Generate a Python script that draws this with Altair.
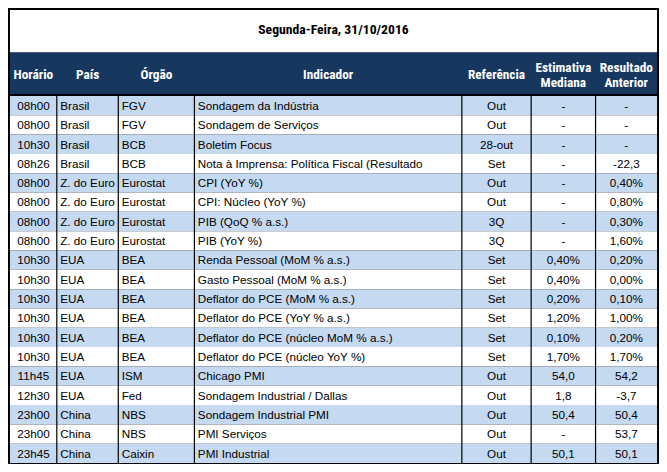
import altair as alt
import pandas as pd

# ---------------- data ----------------
TITLE = "Segunda-Feira, 31/10/2016"
HEADERS = ["Horário", "País", "Órgão", "Indicador", "Referência",
           "Estimativa\nMediana", "Resultado\nAnterior"]

horario = ["08h00", "08h00", "10h30", "08h26", "08h00", "08h00", "08h00", "08h00",
           "10h30", "10h30", "10h30", "10h30", "10h30", "10h30", "11h45", "12h30",
           "23h00", "23h00", "23h45"]
pais = ["Brasil", "Brasil", "Brasil", "Brasil", "Z. do Euro", "Z. do Euro", "Z. do Euro",
        "Z. do Euro", "EUA", "EUA", "EUA", "EUA", "EUA", "EUA", "EUA", "EUA",
        "China", "China", "China"]
orgao = ["FGV", "FGV", "BCB", "BCB", "Eurostat", "Eurostat", "Eurostat", "Eurostat",
         "BEA", "BEA", "BEA", "BEA", "BEA", "BEA", "ISM", "Fed", "NBS", "NBS", "Caixin"]
indicador = ["Sondagem da Indústria", "Sondagem de Serviços", "Boletim Focus",
             "Nota à Imprensa: Política Fiscal (Resultado", "CPI (YoY %)",
             "CPI: Núcleo (YoY %)", "PIB (QoQ % a.s.)", "PIB (YoY %)",
             "Renda Pessoal (MoM % a.s.)", "Gasto Pessoal (MoM % a.s.)",
             "Deflator do PCE (MoM % a.s.)", "Deflator do PCE (YoY % a.s.)",
             "Deflator do PCE (núcleo MoM % a.s.)", "Deflator do PCE (núcleo YoY %)",
             "Chicago PMI", "Sondagem Industrial / Dallas", "Sondagem Industrial PMI",
             "PMI Serviços", "PMI Industrial"]
referencia = ["Out", "Out", "28-out", "Set", "Out", "Out", "3Q", "3Q", "Set", "Set",
              "Set", "Set", "Set", "Set", "Out", "Out", "Out", "Out", "Out"]
estimativa = ["-", "-", "-", "-", "-", "-", "-", "-", "0,40%", "0,40%", "0,20%",
              "1,20%", "0,10%", "1,70%", "54,0", "1,8", "50,4", "-", "50,1"]
anterior = ["-", "-", "-", "-22,3", "0,40%", "0,80%", "0,30%", "1,60%", "0,20%",
            "0,00%", "0,10%", "1,00%", "0,20%", "1,70%", "54,2", "-3,7", "50,4",
            "53,7", "50,1"]

# ---------------- layout (reference pixel units) ----------------
REF_W, REF_H = 667, 472
W, H = 651, 456
COL_EDGES = [2, 50, 113, 191, 465, 536, 602, 665]
COL_ALIGN = ["center", "left", "left", "left", "center", "center", "center"]
TITLE_Y = 23
HEAD_TOP, HEAD_BOT, HEAD_MID = 46, 89, 69
BODY_TOP, ROW_H = 91, 20
NAVY = "#17375e"
BLUE = "#c5d9f1"
BODY_FONT = "Liberation Sans"
HEAD_FONT = "'Roboto Condensed', 'DejaVu Sans Condensed', 'Liberation Sans'"

xs = alt.Scale(domain=[0, REF_W], range=[0, W], nice=False, zero=False)
ys = alt.Scale(domain=[0, REF_H], range=[0, H], nice=False, zero=False)


def X(f):
    return alt.X(f, type="quantitative", scale=xs, axis=None)


def Y(f):
    return alt.Y(f, type="quantitative", scale=ys, axis=None)


# frame blocks
frame = pd.DataFrame({
    "x0": [0, COL_EDGES[0], COL_EDGES[0]],
    "x1": [REF_W, COL_EDGES[-1], COL_EDGES[-1]],
    "y0": [0, 2, HEAD_TOP],
    "y1": [REF_H, HEAD_TOP, HEAD_BOT],
    "fill": ["#000000", "#ffffff", NAVY],
})
frame_layer = alt.Chart(frame).mark_rect().encode(
    x=X("x0"), x2="x1", y=Y("y0"), y2="y1",
    color=alt.Color("fill:N", scale=None))

# body rows
columns = [horario, pais, orgao, indicador, referencia, estimativa, anterior]
n = len(horario)
rows = pd.DataFrame({
    "i": list(range(n)),
    "y0": [BODY_TOP + i * ROW_H for i in range(n)],
    "y1": [BODY_TOP + (i + 1) * ROW_H for i in range(n)],
    "x0": [COL_EDGES[0]] * n,
    "x1": [COL_EDGES[-1]] * n,
    "fill": [BLUE if i % 2 == 0 else "#ffffff" for i in range(n)],
})
row_layer = alt.Chart(rows).mark_rect().encode(
    x=X("x0"), x2="x1", y=Y("y0"), y2="y1",
    color=alt.Color("fill:N", scale=None))

# vertical rules
rules = pd.DataFrame({"x": COL_EDGES[1:-1], "y0": HEAD_BOT, "y1": BODY_TOP + n * ROW_H})
rule_layer = alt.Chart(rules).mark_rule(color="#000000", strokeWidth=1.2).encode(
    x=X("x"), y=Y("y0"), y2="y1")

# cells
cells = []
for c, (vals, al) in enumerate(zip(columns, COL_ALIGN)):
    left, right = COL_EDGES[c], COL_EDGES[c + 1]
    xpos = left + 3.5 if al == "left" else (left + right) / 2
    for i, v in enumerate(vals):
        cells.append({"x": xpos, "y": BODY_TOP + i * ROW_H + ROW_H / 2 + 0.3,
                      "t": v, "al": al})
cells = pd.DataFrame(cells)

text_left = alt.Chart(cells[cells.al == "left"]).mark_text(
    align="left", baseline="middle", font=BODY_FONT, fontSize=11.7, color="#000000"
).encode(x=X("x"), y=Y("y"), text="t:N")
text_center = alt.Chart(cells[cells.al == "center"]).mark_text(
    align="center", baseline="middle", font=BODY_FONT, fontSize=11.7, color="#000000"
).encode(x=X("x"), y=Y("y"), text="t:N")

# header
head = pd.DataFrame({
    "x": [(COL_EDGES[c] + COL_EDGES[c + 1]) / 2 for c in range(len(HEADERS))],
    "y": [HEAD_MID if "\n" not in h else HEAD_MID - 6.6 for h in HEADERS],
    "t": HEADERS,
})
head_layer = alt.Chart(head).mark_text(
    align="center", baseline="middle", font=HEAD_FONT, fontWeight="bold",
    fontSize=13.3, color="#ffffff", lineBreak="\n", lineHeight=14.8
).encode(x=X("x"), y=Y("y"), text="t:N")

title = pd.DataFrame({"x": [(COL_EDGES[0] + COL_EDGES[-1]) / 2], "y": [TITLE_Y], "t": [TITLE]})
title_layer = alt.Chart(title).mark_text(
    align="center", baseline="middle", font=HEAD_FONT, fontWeight="bold",
    fontSize=13.7, color="#000000"
).encode(x=X("x"), y=Y("y"), text="t:N")

chart = alt.layer(
    frame_layer, row_layer, rule_layer, text_left, text_center, head_layer, title_layer
).properties(width=W, height=H, padding=0).configure_view(stroke=None)

chart.save("out.html", embed_options={"renderer": "svg", "actions": False})
